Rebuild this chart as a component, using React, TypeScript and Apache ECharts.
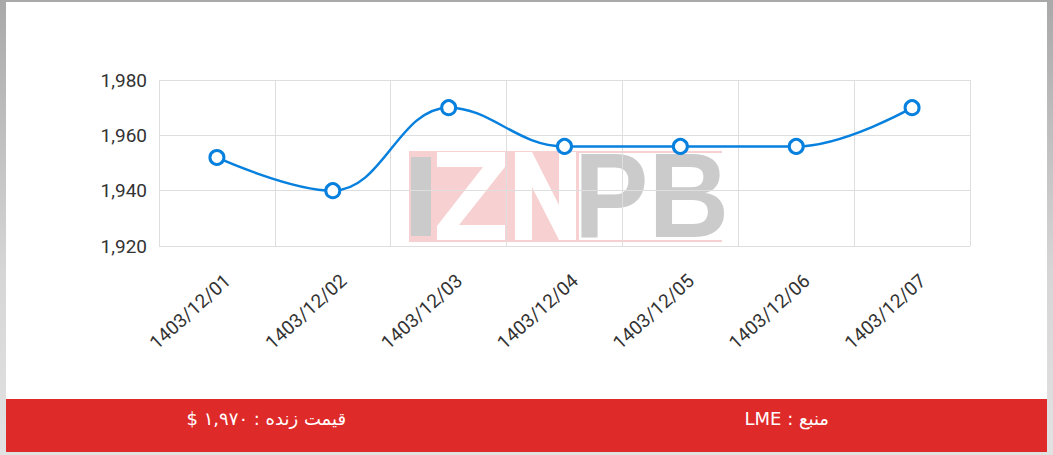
import React, { useEffect, useRef } from "react";
import * as echarts from "echarts";

const categories = [
  "1403/12/01",
  "1403/12/02",
  "1403/12/03",
  "1403/12/04",
  "1403/12/05",
  "1403/12/06",
  "1403/12/07",
];
const prices = [1952, 1940, 1970, 1956, 1956, 1956, 1970];
const yMin = 1920;
const yMax = 1980;
const yStep = 20;
const livePriceText = "قیمت زنده : ۱,۹۷۰ $";
const sourceText = "منبع : LME";

const BLUE = "#0880de";
const GRID = "#dedede";
const PINK = "#f7d0d1";
const GRAY = "#cbcbcb";

export default function App() {
  const ref = useRef<HTMLDivElement>(null);

  useEffect(() => {
    if (!ref.current) return;
    const chart = echarts.init(ref.current, undefined, { renderer: "svg" });
    chart.setOption({
      animation: false,
      grid: { left: 159, right: 83, top: 80, bottom: 153, containLabel: false },
      xAxis: {
        type: "category",
        data: categories,
        boundaryGap: true,
        axisLine: { show: false },
        axisTick: { show: false },
        splitLine: { show: true, lineStyle: { color: GRID, width: 1 } },
        axisLabel: {
          rotate: 42,
          margin: 20,
          formatter: (v: string) => "{t|" + v + "}",
          rich: {
            t: {
              padding: [32, 0, 0, 0],
              fontSize: 19,
              color: "#333",
              fontFamily: "Roboto",
            },
          },
          fontSize: 19,
          color: "#333",
          fontFamily: "Roboto",
          interval: 0,
        },
      },
      yAxis: {
        type: "value",
        min: yMin,
        max: yMax,
        interval: yStep,
        axisLine: { show: false },
        axisTick: { show: false },
        splitLine: { show: true, lineStyle: { color: GRID, width: 1 } },
        axisLabel: {
          margin: 12,
          fontSize: 19,
          color: "#333",
          fontFamily: "Roboto",
          formatter: (v: number) => v.toLocaleString("en-US"),
        },
      },
      graphic: [
        {
          type: "group",
          z: -10,
          silent: true,
          children: [
            { type: "rect", z: -10, shape: { x: 409, y: 151, width: 313, height: 91 }, style: { fill: PINK } },
            { type: "rect", z: -9, shape: { x: 579, y: 153, width: 145, height: 87 }, style: { fill: "#fff" } },
            { type: "rect", z: -8, shape: { x: 411, y: 157, width: 20, height: 79 }, style: { fill: GRAY } },
            {
              type: "polygon",
              z: -8,
              shape: {
                points: [
                  [437, 152], [505, 152], [505, 167], [459, 225], [505, 225],
                  [505, 240], [437, 240], [437, 226], [483, 167], [437, 167],
                ],
              },
              style: { fill: "#fff" },
            },
            {
              type: "polygon",
              z: -8,
              shape: {
                points: [
                  [515, 152], [532, 152], [559, 205], [559, 152], [576, 152],
                  [576, 240], [559, 240], [532, 187], [532, 240], [515, 240],
                ],
              },
              style: { fill: "#fff" },
            },
            {
              type: "text",
              z: -8,
              x: 574,
              y: 196,
              scaleX: 0.93,
              style: {
                text: "PB",
                fill: GRAY,
                fontSize: 120,
                fontWeight: "bold",
                fontFamily: "Liberation Sans",
                verticalAlign: "middle",
                align: "left",
              },
            },
          ],
        },
      ],
      series: [
        {
          type: "line",
          data: prices,
          smooth: 0.4,
          symbol: "circle",
          symbolSize: 14,
          z: 5,
          lineStyle: { color: BLUE, width: 2.5 },
          itemStyle: { color: "#fff", borderColor: BLUE, borderWidth: 3 },
        },
      ],
    });
    return () => chart.dispose();
  }, []);

  return (
    <div
      style={{
        position: "absolute",
        left: 0,
        top: 0,
        width: 1053,
        height: 455,
        background: "linear-gradient(180deg, #a9a9a9 0%, #d6d6d6 60%, #e2e2e2 100%)",
        overflow: "hidden",
      }}
    >
      <div style={{ position: "absolute", left: 6, top: 2, width: 1041, height: 397, background: "#fff" }} />
      <div
        style={{
          position: "absolute",
          left: 6,
          top: 399,
          width: 1041,
          height: 53,
          boxSizing: "border-box",
          paddingBottom: 14,
          background: "#df2a2a",
          display: "flex",
          alignItems: "center",
          color: "#fff",
          fontFamily: "'DejaVu Sans', sans-serif",
          fontSize: 18,
        }}
      >
        <div dir="rtl" style={{ width: "50%", textAlign: "center" }}>{livePriceText}</div>
        <div dir="rtl" style={{ width: "50%", textAlign: "center" }}>{sourceText}</div>
      </div>
      <div ref={ref} style={{ position: "absolute", left: 0, top: 0, width: 1053, height: 399 }} />
    </div>
  );
}
